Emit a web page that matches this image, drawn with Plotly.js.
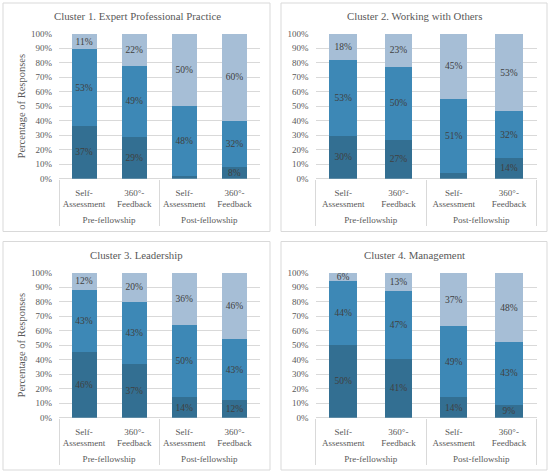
<!DOCTYPE html>
<html>
<head>
<meta charset="utf-8">
<script src="https://cdn.plot.ly/plotly-3.0.1.min.js"></script>
<style>
html, body { margin: 0; padding: 0; background: #ffffff; }
#chart { width: 550px; height: 473px; }
</style>
</head>
<body>
<div id="chart"></div>
<script>
// ---- data ----
const phases = ['Pre-fellowship', 'Pre-fellowship', 'Post-fellowship', 'Post-fellowship'];
const methods = ['Self-<br>Assessment', '360°-<br>Feedback', 'Self-<br>Assessment', '360°-<br>Feedback'];
const clusterTitles = [
  'Cluster 1. Expert Professional Practice',
  'Cluster 2. Working with Others',
  'Cluster 3. Leadership',
  'Cluster 4. Management'
];
const yTicks = [0, 10, 20, 30, 40, 50, 60, 70, 80, 90, 100];

const c1Low = [37, 29, 2, 8];
const c1Mid = [53, 49, 48, 32];
const c1High = [11, 22, 50, 60];

const c2Low = [30, 27, 4, 14];
const c2Mid = [53, 50, 51, 32];
const c2High = [18, 23, 45, 53];

const c3Low = [46, 37, 14, 12];
const c3Mid = [43, 43, 50, 43];
const c3High = [12, 20, 36, 46];

const c4Low = [50, 41, 14, 9];
const c4Mid = [44, 47, 49, 43];
const c4High = [6, 13, 37, 48];

const clusters = [
  [c1Low, c1Mid, c1High],
  [c2Low, c2Mid, c2High],
  [c3Low, c3Mid, c3High],
  [c4Low, c4Mid, c4High]
];
const seriesNames = ['Level 1', 'Level 2', 'Level 3'];
const seriesColors = ['#336f92', '#3d88b6', '#a6bed6'];

// ---- styling ----
const FONT = '"Liberation Serif", "Times New Roman", serif';
const TXT = '#595959';
const GRID = '#d9d9d9';

const W = 550, H = 473;
const px = v => v / W;
const py = v => 1 - v / H;

// plot areas in pixels: [x0, x1, yBottom(0%), yTop(100%)]
const areas = [
  [59, 259.5, 178.7, 33.7],
  [315.5, 536.5, 178.7, 33.7],
  [59, 259.5, 417.7, 272.7],
  [315.5, 536.5, 417.7, 272.7]
];
// panel boxes [x0, y0, x1, y1] in pixels
const boxes = [
  [3, 3, 270, 231.5],
  [281, 3, 547, 231.5],
  [3, 241.5, 270, 470],
  [281, 241.5, 547, 470]
];
const titlePos = [[137, 16], [414, 16], [136, 255], [414, 255]];

const traces = [];
clusters.forEach((series, ci) => {
  const sfx = ci === 0 ? '' : String(ci + 1);
  series.forEach((vals, si) => {
    traces.push({
      type: 'bar',
      name: seriesNames[si],
      x: [phases, methods.map(m => m + '<br><span style="font-size:3px"> </span>')],
      y: vals,
      xaxis: 'x' + sfx,
      yaxis: 'y' + sfx,
      marker: { color: seriesColors[si], line: { width: 0 } },
      text: vals.map(v => (v >= 5 ? v + '%' : '')),
      textposition: 'inside',
      insidetextanchor: 'middle',
      textangle: 0,
      constraintext: 'none',
      textfont: { family: FONT, size: 9.5, color: '#404040' },
      hoverinfo: 'skip',
      showlegend: false
    });
  });
});

const layout = {
  width: W,
  height: H,
  margin: { l: 0, r: 0, t: 0, b: 0 },
  paper_bgcolor: '#ffffff',
  plot_bgcolor: '#ffffff',
  barmode: 'stack',
  barnorm: 'percent',
  bargap: 0.5,
  font: { family: FONT, size: 9, color: TXT },
  showlegend: false,
  shapes: boxes.map(b => ({
    type: 'rect', xref: 'paper', yref: 'paper',
    x0: px(b[0]), x1: px(b[2]), y0: py(b[3]), y1: py(b[1]),
    line: { color: '#d9d9d9', width: 1 }, fillcolor: 'rgba(0,0,0,0)', layer: 'below'
  })),
  annotations: clusterTitles.map((t, i) => ({
    text: t, xref: 'paper', yref: 'paper',
    x: px(titlePos[i][0]), y: py(titlePos[i][1]),
    xanchor: 'center', yanchor: 'middle', showarrow: false,
    font: { family: FONT, size: 10.8, color: TXT }
  }))
};

areas.forEach((a, i) => {
  const sfx = i === 0 ? '' : String(i + 1);
  layout['xaxis' + sfx] = {
    domain: [px(a[0]), px(a[1])],
    anchor: 'y' + sfx,
    type: 'multicategory',
    showgrid: false,
    zeroline: false,
    showline: false,
    ticks: '',
    tickangle: 0,
    ticklabelstandoff: 7,
    showdividers: true,
    dividercolor: GRID,
    dividerwidth: 1,
    tickfont: { family: FONT, size: 9, color: TXT },
    fixedrange: true
  };
  layout['yaxis' + sfx] = {
    domain: [py(a[2]), py(a[3])],
    anchor: 'x' + sfx,
    range: [0, 100],
    tickvals: yTicks,
    ticktext: yTicks.map(v => v + '%'),
    showgrid: true,
    gridcolor: GRID,
    gridwidth: 1,
    zeroline: true,
    zerolinecolor: GRID,
    zerolinewidth: 1,
    showline: false,
    ticks: '',
    ticklabelstandoff: 6,
    tickfont: { family: FONT, size: 9, color: TXT },
    title: (i % 2 === 0) ? { text: 'Percentage of Responses', font: { family: FONT, size: 10.5, color: TXT }, standoff: 3 } : { text: '' },
    fixedrange: true
  };
});

Plotly.newPlot('chart', traces, layout, { displayModeBar: false, staticPlot: true });
</script>
</body>
</html>
